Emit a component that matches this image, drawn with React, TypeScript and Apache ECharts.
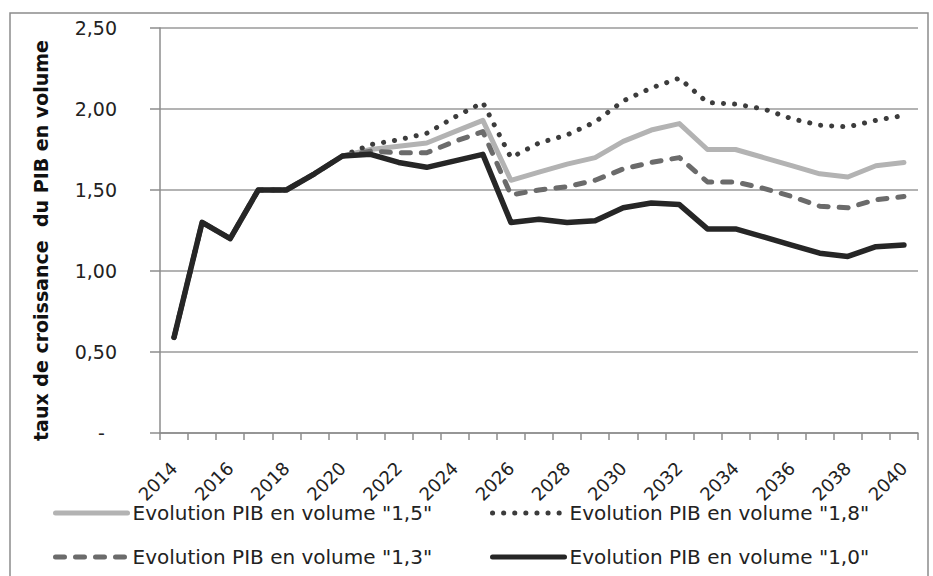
import React, { useEffect, useRef } from "react";
import * as echarts from "echarts";

const years = [
  "2014", "2015", "2016", "2017", "2018", "2019", "2020", "2021", "2022",
  "2023", "2024", "2025", "2026", "2027", "2028", "2029", "2030", "2031",
  "2032", "2033", "2034", "2035", "2036", "2037", "2038", "2039", "2040",
];

const pib15 = [
  0.59, 1.3, 1.2, 1.5, 1.5, 1.6, 1.71, 1.75, 1.77, 1.79, 1.86, 1.93, 1.56, 1.61,
  1.66, 1.7, 1.8, 1.87, 1.91, 1.75, 1.75, 1.7, 1.65, 1.6, 1.58, 1.65, 1.67,
];
const pib18 = [
  0.59, 1.3, 1.2, 1.5, 1.5, 1.6, 1.71, 1.78, 1.81, 1.85, 1.95, 2.04, 1.7, 1.79,
  1.84, 1.92, 2.05, 2.13, 2.19, 2.04, 2.03, 2.0, 1.94, 1.9, 1.89, 1.93, 1.96,
];
const pib13 = [
  0.59, 1.3, 1.2, 1.5, 1.5, 1.6, 1.71, 1.74, 1.73, 1.73, 1.8, 1.86, 1.47, 1.5,
  1.52, 1.56, 1.63, 1.67, 1.7, 1.55, 1.55, 1.51, 1.46, 1.4, 1.39, 1.44, 1.46,
];
const pib10 = [
  0.59, 1.3, 1.2, 1.5, 1.5, 1.6, 1.71, 1.72, 1.67, 1.64, 1.68, 1.72, 1.3, 1.32,
  1.3, 1.31, 1.39, 1.42, 1.41, 1.26, 1.26, 1.21, 1.16, 1.11, 1.09, 1.15, 1.16,
];

const names = [
  'Evolution PIB en volume "1,5"',
  'Evolution PIB en volume "1,8"',
  'Evolution PIB en volume "1,3"',
  'Evolution PIB en volume "1,0"',
];
const yName = "taux de croissance  du PIB en volume";

const FONT = "DejaVu Sans";

export default function App() {
  const ref = useRef<HTMLDivElement>(null);
  useEffect(() => {
    const chart = echarts.init(ref.current!, null, { renderer: "svg" });
    const legendText = { fontFamily: FONT, fontSize: 20, color: "#222", lineHeight: 20 };
    const mkLegend = (name: string, left: number, top: number) => ({
      data: [name],
      left,
      top,
      itemWidth: 72,
      itemHeight: 14,
      itemGap: 5,
      padding: 0,
      textStyle: legendText,
      itemStyle: { opacity: 0 },
      lineStyle: { width: 5 },
    });
    chart.setOption({
      animation: false,
      backgroundColor: "#fff",
      graphic: [
        {
          type: "rect",
          shape: { x: 10, y: 13, width: 918, height: 580 },
          style: { fill: "none", stroke: "#8c8c8c", lineWidth: 1.5 },
          silent: true,
        },
      ],
      legend: [
        mkLegend(names[0], 53, 503),
        mkLegend(names[1], 490, 503),
        mkLegend(names[2], 53, 547),
        mkLegend(names[3], 490, 547),
      ],
      grid: { left: 160, right: 15, top: 28, bottom: 143, containLabel: false },
      xAxis: {
        type: "category",
        data: years,
        boundaryGap: true,
        axisLine: { lineStyle: { color: "#8c8c8c", width: 1.5 } },
        axisTick: { show: true, interval: 0, length: 7, lineStyle: { color: "#8c8c8c", width: 1.5 } },
        axisLabel: {
          interval: 1,
          rotate: 45,
          margin: 32,
          fontFamily: FONT,
          fontSize: 18,
          color: "#222",
        },
        splitLine: { show: false },
      },
      yAxis: {
        type: "value",
        min: 0,
        max: 2.5,
        interval: 0.5,
        name: yName,
        nameLocation: "middle",
        nameRotate: 90,
        nameGap: 110,
        nameTextStyle: {
          fontFamily: FONT,
          fontSize: 19,
          fontWeight: "bold",
          color: "#111",
          padding: [0, 20, 0, 0],
        },
        axisLine: { show: true, lineStyle: { color: "#8c8c8c", width: 1.5 } },
        axisTick: { show: true, length: 10, lineStyle: { color: "#8c8c8c", width: 1.5 } },
        axisLabel: {
          margin: 43,
          fontFamily: FONT,
          fontSize: 19,
          color: "#222",
          formatter: (v: number) =>
            v === 0 ? "-\u00a0\u00a0" : v.toFixed(2).replace(".", ","),
        },
        splitLine: { lineStyle: { color: "#9a9a9a", width: 1.5 } },
      },
      series: [
        {
          name: names[0],
          type: "line",
          data: pib15,
          symbol: "none",
          lineStyle: { color: "#b3b3b3", width: 5, cap: "round", join: "round" },
          itemStyle: { color: "#b3b3b3" },
        },
        {
          name: names[1],
          type: "line",
          data: pib18,
          symbol: "none",
          lineStyle: { color: "#3c3c3c", width: 5, type: [0.1, 11], cap: "round", join: "round" },
          itemStyle: { color: "#3c3c3c" },
        },
        {
          name: names[2],
          type: "line",
          data: pib13,
          symbol: "none",
          lineStyle: { color: "#6b6b6b", width: 5, type: [9, 11], cap: "round", join: "round" },
          itemStyle: { color: "#6b6b6b" },
        },
        {
          name: names[3],
          type: "line",
          data: pib10,
          symbol: "none",
          lineStyle: { color: "#262626", width: 5.5, cap: "round", join: "round" },
          itemStyle: { color: "#262626" },
        },
      ],
    });
    return () => chart.dispose();
  }, []);
  return (
    <div
      ref={ref}
      style={{ position: "fixed", left: 0, top: 0, width: 933, height: 576 }}
    />
  );
}
